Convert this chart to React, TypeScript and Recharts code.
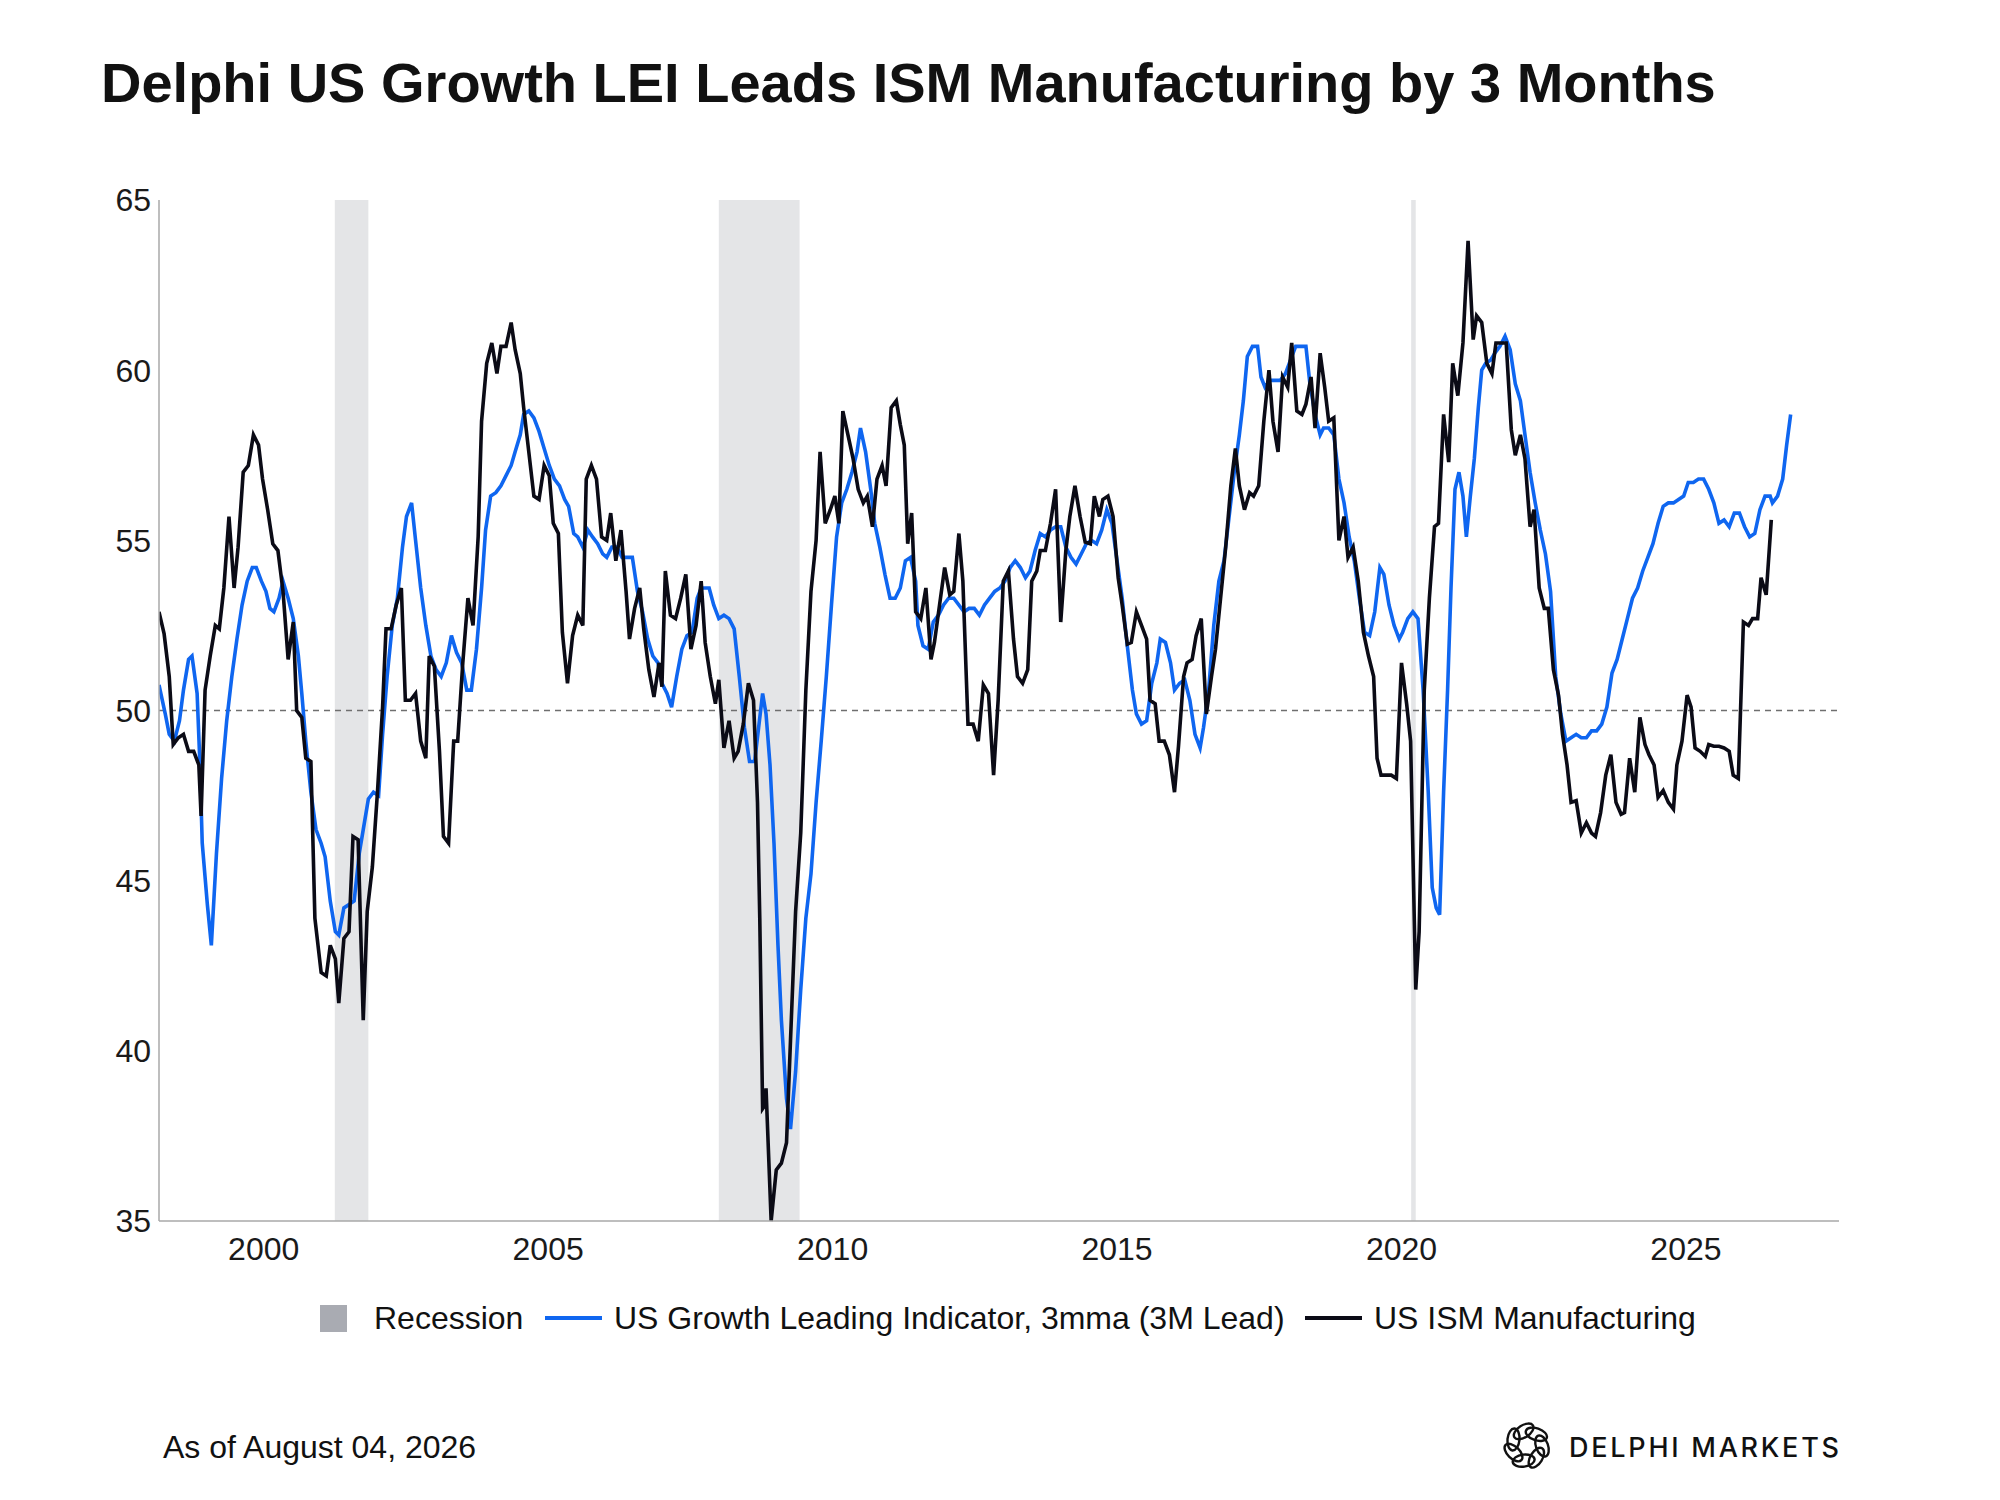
import React from 'react';
import { LineChart, Line, XAxis, YAxis, ReferenceArea, ReferenceLine } from 'recharts';

// [decimal year, value]
const leiPoints: [number, number][] = [
  [1998.16, 50.75], [1998.27, 49.9], [1998.34, 49.3], [1998.43, 49.1], [1998.52, 49.7], [1998.59, 50.6], [1998.68, 51.5], [1998.74, 51.6],
  [1998.83, 50.5], [1998.88, 48.4], [1998.92, 46.1], [1999.01, 44.3], [1999.08, 43.1], [1999.17, 45.8], [1999.26, 48.0], [1999.35, 49.7],
  [1999.44, 51.0], [1999.53, 52.1], [1999.62, 53.1], [1999.71, 53.8], [1999.8, 54.2], [1999.87, 54.2], [1999.96, 53.8], [2000.04, 53.5],
  [2000.11, 53.0], [2000.18, 52.9], [2000.27, 53.3], [2000.34, 53.8], [2000.43, 53.3], [2000.52, 52.7], [2000.61, 51.6], [2000.67, 50.5],
  [2000.74, 49.1], [2000.83, 47.6], [2000.92, 46.5], [2001.01, 46.1], [2001.08, 45.7], [2001.17, 44.4], [2001.26, 43.5], [2001.32, 43.4],
  [2001.41, 44.2], [2001.5, 44.3], [2001.59, 44.4], [2001.68, 45.8], [2001.75, 46.5], [2001.84, 47.4], [2001.93, 47.6], [2002.02, 47.5],
  [2002.09, 49.3], [2002.17, 51.0], [2002.26, 52.5], [2002.35, 53.3], [2002.44, 54.8], [2002.51, 55.7], [2002.6, 56.1], [2002.67, 55.0],
  [2002.76, 53.6], [2002.85, 52.5], [2002.94, 51.6], [2003.03, 51.2], [2003.12, 51.0], [2003.21, 51.4], [2003.3, 52.2], [2003.39, 51.7],
  [2003.48, 51.4], [2003.57, 50.6], [2003.65, 50.6], [2003.74, 51.8], [2003.83, 53.6], [2003.9, 55.3], [2003.99, 56.3], [2004.08, 56.4],
  [2004.17, 56.6], [2004.26, 56.9], [2004.35, 57.2], [2004.42, 57.6], [2004.51, 58.1], [2004.57, 58.7], [2004.66, 58.8], [2004.75, 58.6],
  [2004.84, 58.2], [2004.93, 57.7], [2005.02, 57.2], [2005.11, 56.8], [2005.2, 56.6], [2005.29, 56.2], [2005.36, 56.0], [2005.45, 55.2],
  [2005.52, 55.1], [2005.61, 54.8], [2005.7, 55.3], [2005.78, 55.1], [2005.87, 54.9], [2005.96, 54.6], [2006.03, 54.5], [2006.12, 54.8],
  [2006.21, 54.8], [2006.3, 54.5], [2006.39, 54.5], [2006.48, 54.5], [2006.57, 53.5], [2006.66, 52.9], [2006.75, 52.1], [2006.84, 51.6],
  [2006.93, 51.4], [2007.0, 50.8], [2007.09, 50.5], [2007.17, 50.1], [2007.26, 51.0], [2007.35, 51.8], [2007.44, 52.2], [2007.53, 52.3],
  [2007.62, 53.3], [2007.69, 53.6], [2007.83, 53.6], [2007.91, 53.1], [2008.0, 52.7], [2008.09, 52.8], [2008.18, 52.7], [2008.27, 52.4],
  [2008.36, 51.0], [2008.45, 49.5], [2008.54, 48.5], [2008.63, 48.5], [2008.7, 49.5], [2008.77, 50.5], [2008.83, 49.9], [2008.9, 48.4],
  [2008.97, 46.1], [2009.04, 43.1], [2009.1, 40.9], [2009.19, 38.6], [2009.26, 37.7], [2009.35, 39.4], [2009.44, 41.8], [2009.53, 43.9],
  [2009.62, 45.2], [2009.71, 47.3], [2009.8, 49.1], [2009.89, 51.0], [2009.98, 53.1], [2010.07, 55.1], [2010.16, 56.1], [2010.25, 56.5],
  [2010.34, 57.0], [2010.43, 57.6], [2010.49, 58.3], [2010.58, 57.6], [2010.67, 56.5], [2010.74, 55.5], [2010.83, 54.8], [2010.92, 54.0],
  [2011.01, 53.3], [2011.1, 53.3], [2011.19, 53.6], [2011.28, 54.4], [2011.37, 54.5], [2011.46, 53.8], [2011.5, 52.5], [2011.59, 51.9],
  [2011.68, 51.8], [2011.77, 52.6], [2011.86, 52.8], [2011.95, 53.1], [2012.04, 53.3], [2012.13, 53.3], [2012.22, 53.1], [2012.31, 52.9],
  [2012.4, 53.0], [2012.49, 53.0], [2012.58, 52.8], [2012.67, 53.1], [2012.76, 53.3], [2012.85, 53.5], [2012.94, 53.6], [2013.03, 53.8],
  [2013.12, 54.2], [2013.21, 54.4], [2013.3, 54.2], [2013.39, 53.9], [2013.47, 54.1], [2013.56, 54.7], [2013.65, 55.2], [2013.74, 55.1],
  [2013.83, 55.3], [2013.92, 55.4], [2014.01, 55.4], [2014.1, 54.8], [2014.19, 54.5], [2014.28, 54.3], [2014.37, 54.6], [2014.46, 54.9],
  [2014.55, 55.0], [2014.64, 54.9], [2014.73, 55.3], [2014.82, 55.9], [2014.91, 55.5], [2015.0, 54.4], [2015.09, 53.3], [2015.18, 51.9],
  [2015.27, 50.6], [2015.34, 49.9], [2015.43, 49.6], [2015.52, 49.7], [2015.61, 50.8], [2015.7, 51.4], [2015.76, 52.1], [2015.85, 52.0],
  [2015.94, 51.4], [2016.01, 50.6], [2016.1, 50.8], [2016.19, 50.9], [2016.28, 50.3], [2016.37, 49.3], [2016.46, 48.9], [2016.52, 49.5],
  [2016.61, 50.6], [2016.7, 52.5], [2016.79, 53.8], [2016.88, 54.4], [2016.97, 55.7], [2017.06, 57.0], [2017.15, 58.1], [2017.22, 59.1],
  [2017.29, 60.4], [2017.38, 60.7], [2017.47, 60.7], [2017.53, 59.8], [2017.6, 59.5], [2017.69, 59.7], [2017.78, 59.7], [2017.87, 59.7],
  [2017.96, 59.9], [2018.05, 60.3], [2018.14, 60.7], [2018.23, 60.7], [2018.32, 60.7], [2018.39, 59.6], [2018.48, 58.7], [2018.57, 58.1],
  [2018.63, 58.3], [2018.72, 58.3], [2018.81, 58.1], [2018.9, 56.8], [2018.99, 56.1], [2019.08, 55.1], [2019.17, 54.4], [2019.26, 53.3],
  [2019.35, 52.3], [2019.44, 52.2], [2019.53, 52.9], [2019.62, 54.2], [2019.69, 54.0], [2019.78, 53.1], [2019.87, 52.5], [2019.96, 52.1],
  [2020.02, 52.3], [2020.11, 52.7], [2020.2, 52.9], [2020.29, 52.7], [2020.38, 50.6], [2020.47, 47.6], [2020.54, 44.8], [2020.61, 44.2],
  [2020.67, 44.0], [2020.74, 47.6], [2020.81, 50.6], [2020.87, 53.6], [2020.94, 56.5], [2021.01, 57.0], [2021.08, 56.3], [2021.14, 55.1],
  [2021.21, 56.3], [2021.28, 57.4], [2021.35, 58.9], [2021.41, 60.0], [2021.48, 60.2], [2021.57, 60.3], [2021.64, 60.5], [2021.73, 60.7],
  [2021.82, 61.0], [2021.91, 60.6], [2022.0, 59.6], [2022.09, 59.1], [2022.17, 58.1], [2022.26, 57.0], [2022.35, 56.1], [2022.44, 55.3],
  [2022.53, 54.6], [2022.62, 53.5], [2022.71, 51.0], [2022.8, 49.9], [2022.89, 49.1], [2022.98, 49.2], [2023.07, 49.3], [2023.16, 49.2],
  [2023.25, 49.2], [2023.34, 49.4], [2023.43, 49.4], [2023.52, 49.6], [2023.61, 50.1], [2023.7, 51.1], [2023.79, 51.5], [2023.88, 52.1],
  [2023.97, 52.7], [2024.06, 53.3], [2024.15, 53.6], [2024.24, 54.1], [2024.33, 54.5], [2024.42, 54.9], [2024.51, 55.5], [2024.6, 56.0],
  [2024.69, 56.1], [2024.78, 56.1], [2024.87, 56.2], [2024.96, 56.3], [2025.04, 56.7], [2025.13, 56.7], [2025.22, 56.8], [2025.31, 56.8],
  [2025.4, 56.5], [2025.49, 56.1], [2025.58, 55.5], [2025.67, 55.6], [2025.76, 55.4], [2025.85, 55.8], [2025.94, 55.8], [2026.03, 55.4],
  [2026.12, 55.1], [2026.21, 55.2], [2026.3, 55.9], [2026.39, 56.3], [2026.48, 56.3], [2026.52, 56.1], [2026.61, 56.3], [2026.7, 56.8],
  [2026.77, 57.8], [2026.84, 58.7],
];

const ismPoints: [number, number][] = [
  [1998.16, 52.9], [1998.25, 52.25], [1998.34, 51.0], [1998.41, 49.0], [1998.5, 49.2], [1998.59, 49.3], [1998.68, 48.8], [1998.77, 48.8],
  [1998.86, 48.4], [1998.9, 46.9], [1998.97, 50.6], [1999.06, 51.6], [1999.15, 52.5], [1999.22, 52.4], [1999.3, 53.6], [1999.39, 55.7],
  [1999.48, 53.6], [1999.55, 54.8], [1999.64, 57.0], [1999.73, 57.2], [1999.82, 58.1], [1999.91, 57.8], [1999.98, 56.8], [2000.07, 55.9],
  [2000.16, 54.9], [2000.25, 54.7], [2000.34, 53.5], [2000.43, 51.5], [2000.52, 52.6], [2000.58, 50.0], [2000.67, 49.8], [2000.74, 48.6],
  [2000.83, 48.5], [2000.9, 43.9], [2001.01, 42.3], [2001.1, 42.2], [2001.17, 43.1], [2001.26, 42.7], [2001.32, 41.4], [2001.41, 43.3],
  [2001.5, 43.5], [2001.57, 46.3], [2001.66, 46.2], [2001.75, 40.9], [2001.82, 44.1], [2001.91, 45.4], [2002.0, 47.6], [2002.09, 50.1],
  [2002.15, 52.4], [2002.24, 52.4], [2002.33, 53.1], [2002.42, 53.6], [2002.49, 50.3], [2002.58, 50.3], [2002.67, 50.5], [2002.76, 49.1],
  [2002.85, 48.6], [2002.91, 51.6], [2003.0, 51.3], [2003.09, 48.8], [2003.16, 46.3], [2003.25, 46.1], [2003.34, 49.1], [2003.41, 49.1],
  [2003.5, 51.4], [2003.59, 53.3], [2003.68, 52.5], [2003.77, 55.1], [2003.83, 58.5], [2003.92, 60.2], [2004.01, 60.8], [2004.1, 59.9],
  [2004.17, 60.7], [2004.26, 60.7], [2004.35, 61.4], [2004.42, 60.6], [2004.51, 59.9], [2004.57, 58.9], [2004.66, 57.6], [2004.75, 56.3],
  [2004.84, 56.2], [2004.93, 57.2], [2005.02, 56.9], [2005.09, 55.5], [2005.18, 55.2], [2005.25, 52.3], [2005.34, 50.8], [2005.43, 52.2],
  [2005.52, 52.8], [2005.61, 52.5], [2005.67, 56.8], [2005.76, 57.2], [2005.85, 56.8], [2005.94, 55.1], [2006.03, 55.0], [2006.1, 55.8],
  [2006.19, 54.4], [2006.28, 55.3], [2006.37, 53.5], [2006.43, 52.1], [2006.52, 53.0], [2006.61, 53.6], [2006.68, 52.4], [2006.77, 51.2],
  [2006.86, 50.4], [2006.95, 51.4], [2007.0, 50.7], [2007.06, 54.1], [2007.15, 52.8], [2007.24, 52.7], [2007.33, 53.3], [2007.42, 54.0],
  [2007.51, 51.8], [2007.6, 52.5], [2007.69, 53.8], [2007.76, 52.0], [2007.85, 51.0], [2007.94, 50.2], [2008.0, 50.9], [2008.09, 48.9],
  [2008.18, 49.7], [2008.27, 48.6], [2008.34, 48.8], [2008.43, 49.6], [2008.52, 50.8], [2008.61, 50.3], [2008.68, 47.3], [2008.72, 43.9],
  [2008.77, 38.3], [2008.81, 38.4], [2008.83, 38.9], [2008.92, 35.0], [2009.01, 36.5], [2009.1, 36.7], [2009.19, 37.3], [2009.26, 40.3],
  [2009.35, 44.1], [2009.44, 46.4], [2009.53, 50.6], [2009.62, 53.5], [2009.71, 55.0], [2009.78, 57.6], [2009.87, 55.5], [2009.96, 55.9],
  [2010.04, 56.3], [2010.11, 55.5], [2010.18, 58.8], [2010.27, 58.1], [2010.36, 57.4], [2010.45, 56.5], [2010.54, 56.1], [2010.61, 56.3],
  [2010.7, 55.4], [2010.78, 56.8], [2010.87, 57.2], [2010.94, 56.6], [2011.03, 58.9], [2011.12, 59.1], [2011.19, 58.4], [2011.26, 57.8],
  [2011.32, 54.9], [2011.39, 55.8], [2011.46, 52.9], [2011.55, 52.7], [2011.64, 53.6], [2011.73, 51.5], [2011.79, 52.0], [2011.88, 53.1],
  [2011.97, 54.2], [2012.06, 53.4], [2012.13, 53.5], [2012.22, 55.2], [2012.29, 53.8], [2012.38, 49.6], [2012.47, 49.6], [2012.56, 49.1],
  [2012.65, 50.75], [2012.74, 50.5], [2012.83, 48.1], [2012.91, 50.3], [2013.0, 53.8], [2013.09, 54.1], [2013.18, 52.1], [2013.25, 51.0],
  [2013.34, 50.8], [2013.43, 51.2], [2013.5, 53.8], [2013.59, 54.1], [2013.65, 54.7], [2013.74, 54.7], [2013.83, 55.5], [2013.92, 56.5],
  [2014.01, 52.6], [2014.1, 54.7], [2014.17, 55.7], [2014.26, 56.6], [2014.35, 55.7], [2014.44, 54.95], [2014.53, 54.9], [2014.6, 56.3],
  [2014.69, 55.7], [2014.75, 56.2], [2014.84, 56.3], [2014.93, 55.7], [2015.02, 53.9], [2015.09, 53.1], [2015.18, 51.95], [2015.25, 52.0],
  [2015.34, 52.9], [2015.43, 52.5], [2015.52, 52.1], [2015.58, 50.3], [2015.67, 50.2], [2015.74, 49.1], [2015.83, 49.1], [2015.92, 48.7],
  [2016.01, 47.6], [2016.08, 48.95], [2016.17, 51.0], [2016.23, 51.4], [2016.32, 51.5], [2016.39, 52.2], [2016.48, 52.7], [2016.57, 49.9],
  [2016.66, 51.0], [2016.73, 51.8], [2016.82, 53.3], [2016.91, 54.8], [2017.0, 56.6], [2017.08, 57.7], [2017.15, 56.6], [2017.24, 55.9],
  [2017.33, 56.4], [2017.4, 56.3], [2017.49, 56.6], [2017.58, 58.5], [2017.67, 60.0], [2017.74, 58.5], [2017.83, 57.6], [2017.91, 59.8],
  [2018.0, 59.5], [2018.07, 60.8], [2018.16, 58.8], [2018.25, 58.7], [2018.32, 59.0], [2018.41, 59.8], [2018.48, 58.3], [2018.57, 60.5],
  [2018.65, 59.5], [2018.72, 58.5], [2018.81, 58.6], [2018.9, 55.0], [2018.99, 55.7], [2019.06, 54.5], [2019.15, 54.8], [2019.24, 53.8],
  [2019.33, 52.3], [2019.42, 51.6], [2019.51, 51.0], [2019.57, 48.6], [2019.64, 48.1], [2019.73, 48.1], [2019.82, 48.1], [2019.91, 48.0],
  [2020.0, 51.4], [2020.09, 50.2], [2020.16, 49.1], [2020.25, 41.8], [2020.31, 43.5], [2020.4, 50.6], [2020.49, 53.3], [2020.58, 55.4],
  [2020.65, 55.5], [2020.74, 58.7], [2020.83, 57.3], [2020.9, 60.2], [2020.99, 59.25], [2021.08, 60.8], [2021.17, 63.8], [2021.26, 60.9],
  [2021.32, 61.6], [2021.41, 61.4], [2021.5, 60.2], [2021.59, 59.9], [2021.66, 60.8], [2021.75, 60.8], [2021.84, 60.8], [2021.93, 58.25],
  [2022.0, 57.5], [2022.09, 58.1], [2022.17, 57.4], [2022.26, 55.4], [2022.33, 55.9], [2022.42, 53.6], [2022.51, 53.0], [2022.58, 53.0],
  [2022.67, 51.2], [2022.76, 50.45], [2022.83, 49.3], [2022.91, 48.4], [2022.98, 47.3], [2023.07, 47.35], [2023.16, 46.4], [2023.25, 46.7],
  [2023.34, 46.4], [2023.41, 46.3], [2023.5, 47.0], [2023.59, 48.1], [2023.68, 48.7], [2023.77, 47.3], [2023.86, 46.95], [2023.92, 47.0],
  [2024.01, 48.6], [2024.1, 47.6], [2024.19, 49.8], [2024.28, 49.0], [2024.35, 48.7], [2024.44, 48.4], [2024.51, 47.45], [2024.6, 47.65],
  [2024.69, 47.3], [2024.78, 47.1], [2024.84, 48.4], [2024.93, 49.1], [2025.02, 50.45], [2025.09, 50.1], [2025.16, 48.9], [2025.25, 48.8],
  [2025.34, 48.65], [2025.4, 49.0], [2025.49, 48.95], [2025.58, 48.95], [2025.67, 48.9], [2025.76, 48.8], [2025.83, 48.1], [2025.92, 48.0],
  [2026.01, 52.6], [2026.1, 52.5], [2026.17, 52.7], [2026.26, 52.7], [2026.32, 53.9], [2026.41, 53.4], [2026.5, 55.6],
];

// recession spans (start, end) in decimal years
const recessions: [number, number][] = [
  [2001.25, 2001.84],
  [2008.0, 2009.42],
  [2020.17, 2020.25],
];

const xTicks = [2000, 2005, 2010, 2015, 2020, 2025];
const yTicks = [35, 40, 45, 50, 55, 60, 65];

const FONT = '"Liberation Sans", Arial, sans-serif';
const BLUE = '#0f66f0';
const INK = '#0b0b16';
const TXT = 32;

const lei = leiPoints.map(([t, v]) => ({ t, v }));
const ism = ismPoints.map(([t, v]) => ({ t, v }));

function Logo() {
  const petals = [0, 1, 2, 3, 4, 5, 6];
  return (
    <svg width={360} height={64} style={{ position: 'absolute', left: 1495, top: 1414 }}>
      <g transform="translate(32,32)" fill="none" stroke="#111" strokeWidth={2.4}>
        {petals.map((i) => {
          const a = (i * Math.PI * 2) / petals.length;
          const cx = Math.cos(a) * 15;
          const cy = Math.sin(a) * 15;
          return <ellipse key={i} cx={cx} cy={cy} rx={11} ry={6} transform={`rotate(${(a * 180) / Math.PI + 70} ${cx} ${cy})`} />;
        })}
      </g>
      <text x={74} y={43} fontFamily="Inter, sans-serif" fontSize={27} fontWeight={500} fill="#111" textLength={270} lengthAdjust="spacing">
        DELPHI MARKETS
      </text>
    </svg>
  );
}

export default function App() {
  return (
    <div style={{ position: 'absolute', left: 0, top: 0, width: 2000, height: 1500, background: '#fff', fontFamily: FONT, color: '#111' }}>
      <div style={{ position: 'absolute', left: 101, top: 55, fontSize: 56, lineHeight: 1, fontWeight: 700, whiteSpace: 'nowrap' }}>
        Delphi US Growth LEI Leads ISM Manufacturing by 3 Months
      </div>

      <div style={{ position: 'absolute', left: 0, top: 0 }}>
        <LineChart width={2000} height={1500} margin={{ top: 200, right: 161, bottom: 219, left: 79 }}>
          {recessions.map(([a, b]) => (
            <ReferenceArea key={a} x1={a} x2={b} y1={35} y2={65} fill="#e4e5e7" fillOpacity={1} stroke="none" />
          ))}
          <XAxis
            type="number"
            dataKey="t"
            domain={[1998.16, 2027.69]}
            ticks={xTicks}
            allowDataOverflow
            height={60}
            tickLine={false}
            tickMargin={10}
            axisLine={{ stroke: '#a8a8a8', strokeWidth: 1.5 }}
            tick={{ fill: '#1a1a1a', fontSize: TXT, fontFamily: FONT }}
          />
          <YAxis
            type="number"
            domain={[35, 65]}
            ticks={yTicks}
            width={80}
            tickLine={false}
            axisLine={{ stroke: '#a8a8a8', strokeWidth: 1.5 }}
            tick={{ fill: '#1a1a1a', fontSize: TXT, fontFamily: FONT }}
          />
          <ReferenceLine y={50} stroke="#6f6f6f" strokeWidth={1.5} strokeDasharray="6 5" />
          <Line data={lei} dataKey="v" type="linear" stroke={BLUE} strokeWidth={3.6} dot={false} isAnimationActive={false} />
          <Line data={ism} dataKey="v" type="linear" stroke={INK} strokeWidth={3.6} dot={false} isAnimationActive={false} />
        </LineChart>
      </div>

      {/* legend */}
      <div style={{ position: 'absolute', left: 320, top: 1305, width: 27, height: 27, background: '#a9abb2' }} />
      <div style={{ position: 'absolute', left: 374, top: 1302, fontSize: TXT, lineHeight: 1, whiteSpace: 'nowrap' }}>Recession</div>
      <div style={{ position: 'absolute', left: 545, top: 1316, width: 57, height: 4, background: BLUE }} />
      <div style={{ position: 'absolute', left: 614, top: 1302, fontSize: TXT, lineHeight: 1, whiteSpace: 'nowrap' }}>
        US Growth Leading Indicator, 3mma (3M Lead)
      </div>
      <div style={{ position: 'absolute', left: 1305, top: 1316, width: 57, height: 4, background: INK }} />
      <div style={{ position: 'absolute', left: 1374, top: 1302, fontSize: TXT, lineHeight: 1, whiteSpace: 'nowrap' }}>US ISM Manufacturing</div>

      <div style={{ position: 'absolute', left: 163, top: 1431, fontSize: TXT, lineHeight: 1, whiteSpace: 'nowrap' }}>As of August 04, 2026</div>
      <Logo />
    </div>
  );
}
